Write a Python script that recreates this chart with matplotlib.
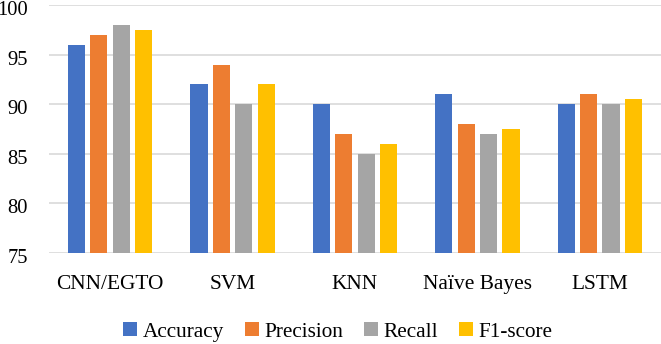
import matplotlib
matplotlib.use("Agg")
import matplotlib.pyplot as plt
import matplotlib.transforms as mtransforms
import numpy as np

categories = ["CNN/EGTO", "SVM", "KNN", "Naïve Bayes", "LSTM"]
series_names = ["Accuracy", "Precision", "Recall", "F1-score"]
accuracy = [96, 92, 90, 91, 90]
precision = [97, 94, 87, 88, 91]
recall = [98, 90, 85, 87, 90]
f1_score = [97.5, 92, 86, 87.5, 90.5]
colors = ["#4472C4", "#ED7D31", "#A5A5A5", "#FFC000"]
yticks = [75, 80, 85, 90, 95, 100]

plt.rcParams['font.family'] = ['Liberation Serif', 'DejaVu Serif']

fig = plt.figure(figsize=(6.61, 3.44), dpi=100)
ax = fig.add_axes([0.074, 0.2645, 0.926, 0.721])

x = np.arange(len(categories))
step = 0.183
width = 0.14
data = [accuracy, precision, recall, f1_score]
for i, (vals, name, c) in enumerate(zip(data, series_names, colors)):
    ax.bar(x + (i - 1.5) * step, np.array(vals) - 75, bottom=75, width=width,
           color=c, label=name, zorder=3)

ax.set_xlim(-0.5, len(categories) - 0.5)
ax.set_ylim(75, 100)
ax.set_yticks(yticks)
ax.set_yticklabels([str(t) for t in yticks], fontsize=14.8)
ax.set_xticks(x)
ax.set_xticklabels(categories, fontsize=15.4)
ax.tick_params(axis='both', length=0)
ax.tick_params(axis='y', pad=15)
ax.tick_params(axis='x', pad=15.5)
offset = mtransforms.ScaledTranslation(0, -2.2 / 72, fig.dpi_scale_trans)
for lbl in ax.get_yticklabels():
    lbl.set_transform(lbl.get_transform() + offset)
ax.grid(axis='y', color='#D9D9D9', linewidth=1.2, zorder=0)
for s in ax.spines.values():
    s.set_visible(False)

handles, labels = ax.get_legend_handles_labels()
fig.legend(handles, labels, loc='center', bbox_to_anchor=(0.511, 0.035), ncol=4,
           frameon=False, fontsize=15.3, handlelength=0.65, handleheight=0.65,
           handletextpad=0.25, columnspacing=1.0)

fig.savefig("out.png", dpi=100)
